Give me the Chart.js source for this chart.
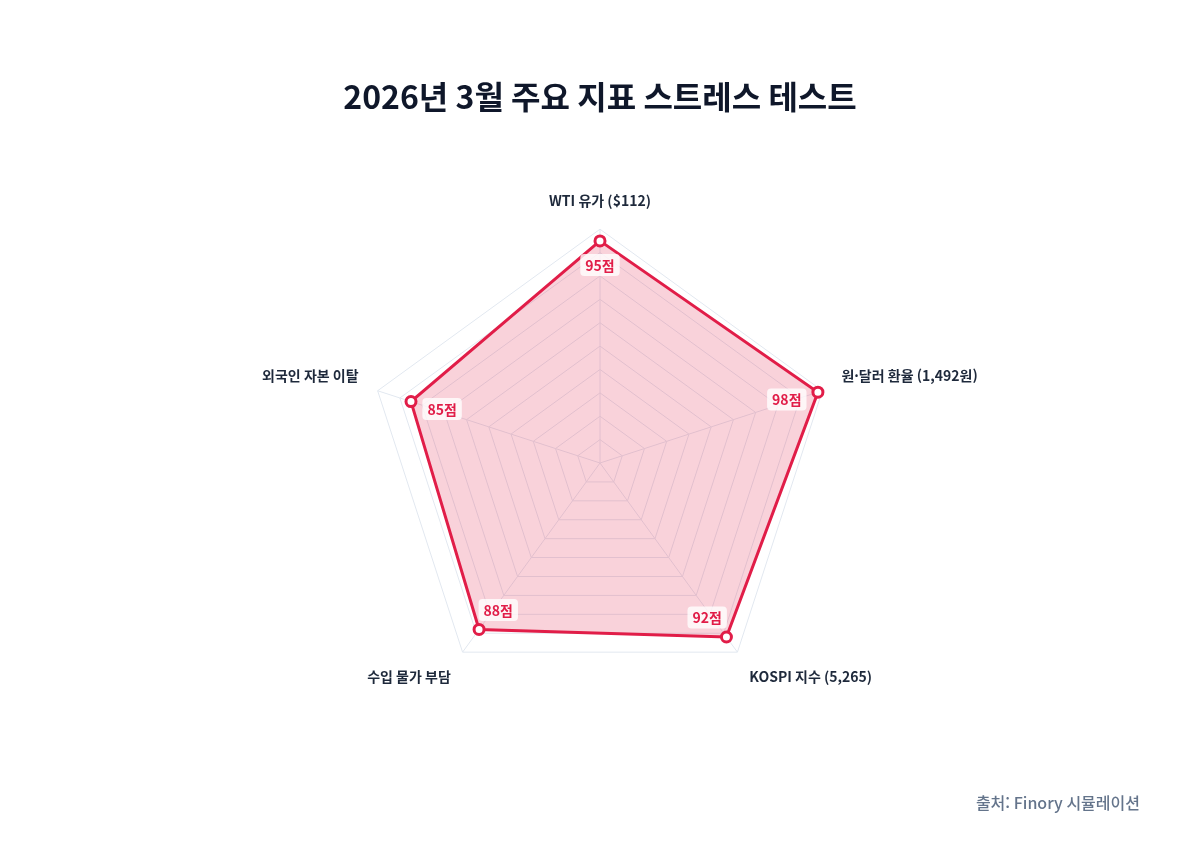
<!DOCTYPE html>
<html lang="ko">
<head>
<meta charset="utf-8">
<title>2026년 3월 주요 지표 스트레스 테스트</title>
<script src="https://cdn.jsdelivr.net/npm/chart.js@4.4.1/dist/chart.umd.min.js"></script>
<style>
  html, body { margin: 0; padding: 0; background: #ffffff; }
  #wrap { position: relative; width: 1200px; height: 868px; }
</style>
</head>
<body>
<div id="wrap"><canvas id="radar"></canvas></div>
<script>
const axisLabels = ['WTI 유가 ($112)', '원·달러 환율 (1,492원)', 'KOSPI 지수 (5,265)', '수입 물가 부담', '외국인 자본 이탈']
const stressScores = [95, 98, 92, 88, 85]
const scoreUnit = '점'

const FONT = "'Noto Sans CJK KR', 'Noto Sans', sans-serif"
const RED = '#e11d48'

// draws the "95점" style tags just inside each point
const scoreTags = {
  id: 'scoreTags',
  afterDatasetsDraw(chart) {
    const ctx = chart.ctx
    const scale = chart.scales.r
    const meta = chart.getDatasetMeta(0)
    ctx.save()
    ctx.font = `bold 14px ${FONT}`
    ctx.textAlign = 'center'
    ctx.textBaseline = 'middle'
    meta.data.forEach((pt, i) => {
      const text = stressScores[i] + scoreUnit
      const w = ctx.measureText(text).width + 10
      const h = 22
      let dx = scale.xCenter - pt.x
      let dy = scale.yCenter - pt.y
      const len = Math.sqrt(dx * dx + dy * dy) || 1
      dx /= len
      dy /= len
      const off = 13
      const cx = pt.x + dx * (off + w / 2)
      const cy = pt.y + dy * (off + h / 2)
      ctx.fillStyle = 'rgba(255, 255, 255, 0.8)'
      ctx.beginPath()
      ctx.roundRect(cx - w / 2, cy - h / 2, w, h, 4)
      ctx.fill()
      ctx.fillStyle = RED
      ctx.fillText(text, cx, cy + 0.5)
    })
    ctx.restore()
  }
}

const ctx = document.getElementById('radar').getContext('2d')
const radarChart = new Chart(ctx, {
  type: 'radar',
  data: {
    labels: axisLabels,
    datasets: [
      {
        label: '스트레스 점수',
        data: stressScores,
        borderColor: RED,
        backgroundColor: 'rgba(225, 29, 72, 0.2)',
        borderWidth: 3,
        pointRadius: 5,
        pointBorderWidth: 3,
        pointBackgroundColor: '#ffffff',
        pointBorderColor: RED,
        fill: true
      }
    ]
  },
  options: {
    responsive: true,
    maintainAspectRatio: false,
    animation: false,
    layout: { padding: { top: 20, bottom: 28, left: 60, right: 60 } },
    scales: {
      r: {
        min: 0,
        max: 100,
        beginAtZero: true,
        ticks: { stepSize: 10, display: false },
        grid: { color: '#e2e8f0', lineWidth: 1 },
        angleLines: { color: '#e2e8f0', lineWidth: 1 },
        pointLabels: {
          padding: 20,
          color: '#1e293b',
          font: { family: FONT, size: 14, weight: 'bold' }
        }
      }
    },
    plugins: {
      legend: { display: false },
      tooltip: { enabled: false },
      title: {
        display: true,
        text: '2026년 3월 주요 지표 스트레스 테스트',
        color: '#0f172a',
        font: { family: FONT, size: 32, weight: 'bold' },
        padding: { top: 58, bottom: 58 }
      },
      subtitle: {
        display: true,
        position: 'bottom',
        align: 'end',
        text: '출처: Finory 시뮬레이션',
        color: '#64748b',
        font: { family: FONT, size: 16, weight: '500' },
        padding: { top: 78, bottom: 27 }
      }
    }
  },
  plugins: [scoreTags]
})
</script>
</body>
</html>
